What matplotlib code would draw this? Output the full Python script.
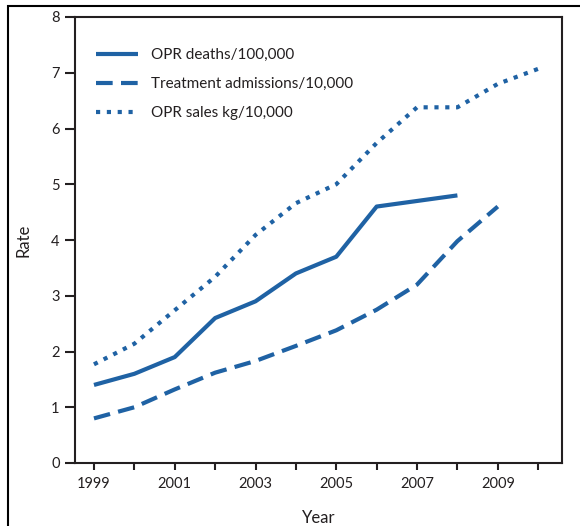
import matplotlib.pyplot as plt
from matplotlib.patches import Rectangle

# Dados
anos = [1999, 2000, 2001, 2002, 2003, 2004, 2005, 2006, 2007, 2008, 2009, 2010]
mortes = [1.4, 1.6, 1.9, 2.6, 2.9, 3.4, 3.7, 4.6, 4.7, 4.8]
tratamento = [0.8, 1.0, 1.32, 1.62, 1.83, 2.1, 2.38, 2.75, 3.2, 3.98, 4.6]
vendas = [1.77, 2.14, 2.74, 3.34, 4.09, 4.66, 5.0, 5.74, 6.38, 6.38, 6.8, 7.07]

rotulos = ['OPR deaths/100,000', 'Treatment admissions/10,000', 'OPR sales kg/10,000']
anos_ticks = [1999, 2001, 2003, 2005, 2007, 2009]

azul = '#1f62a4'
escuro = '#231f20'

plt.rcParams['font.family'] = ['Lato', 'DejaVu Sans']

fig = plt.figure(figsize=(5.8, 5.26), dpi=100)
ax = fig.add_axes([75 / 580, 1 - 463 / 526, (562 - 75) / 580, (463 - 17) / 526])

ax.plot(anos[:len(mortes)], mortes, color=azul, lw=3, solid_capstyle='butt', label=rotulos[0])
ax.plot(anos[:len(tratamento)], tratamento, color=azul, lw=3, dashes=(4, 2),
        dash_capstyle='butt', label=rotulos[1])
ax.plot(anos, vendas, color=azul, lw=3, dashes=(1, 1.6),
        dash_capstyle='butt', label=rotulos[2])

ax.set_xlim(1998.53, 2010.59)
ax.set_ylim(0, 8)
ax.set_xticks(anos)
ax.set_xticklabels([str(a) if a in anos_ticks else '' for a in anos])
ax.set_yticks(range(0, 9))

for s in ax.spines.values():
    s.set_color(escuro)
    s.set_linewidth(1.5)

ax.tick_params(axis='x', length=5, width=1.5, pad=5, colors=escuro, labelsize=10.5)
ax.tick_params(axis='y', length=7, width=1.5, pad=4, colors=escuro, labelsize=10.5)

ax.set_xlabel('Year', fontsize=12, color=escuro, labelpad=14)
ax.set_ylabel('Rate', fontsize=12, color=escuro, labelpad=14)

leg = ax.legend(loc='upper left', bbox_to_anchor=(0.014, 0.961), frameon=False,
                fontsize=11, handlelength=2.8, handletextpad=0.8, labelspacing=0.98)
for t in leg.get_texts():
    t.set_color(escuro)

# Moldura externa
fig.patches.append(Rectangle((8 / 580, -0.1), 1.2, 1.1 - 6.5 / 526,
                             transform=fig.transFigure, fill=False,
                             edgecolor='black', lw=1.5))

plt.savefig('out.png', dpi=100)
